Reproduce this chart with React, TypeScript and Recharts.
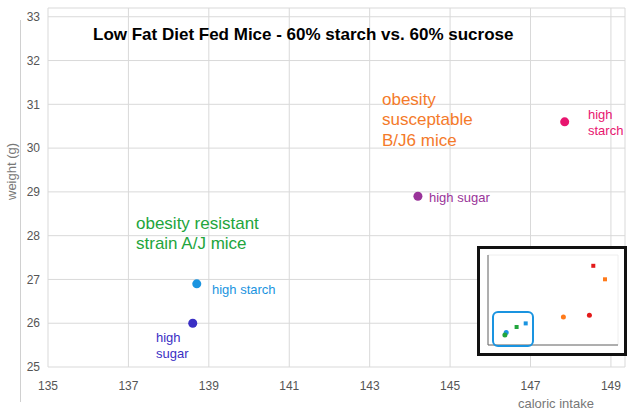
import React from 'react'
import { ScatterChart, Scatter, XAxis, YAxis, CartesianGrid, Cell } from 'recharts'

const xTicks = [135, 137, 139, 141, 143, 145, 147, 149]
const yTicks = [25, 26, 27, 28, 29, 30, 31, 32, 33]

const points = [
  { x: 138.6, y: 26.0, color: '#3a2fc4' },
  { x: 138.7, y: 26.9, color: '#1a94e0' },
  { x: 144.2, y: 28.9, color: '#993399' },
  { x: 147.85, y: 30.6, color: '#e8156f' },
]

// inset thumbnail (small copy of a second plot)
const insetCircles = [
  { x: 1.4, y: 1.4, color: '#1a94e0' },
  { x: 1.3, y: 1.1, color: '#22a53c' },
  { x: 5.8, y: 3.1, color: '#ff7a1a' },
  { x: 7.8, y: 3.3, color: '#e31a1a' },
]
const insetSquares = [
  { x: 2.2, y: 2.0, color: '#22a53c' },
  { x: 2.9, y: 2.4, color: '#1a94e0' },
  { x: 8.1, y: 8.8, color: '#e31a1a' },
  { x: 9.0, y: 7.3, color: '#ff7a1a' },
]

const font = '"Liberation Sans", Arial, sans-serif'

const label = (left: number, top: number, color: string, size: number, text: string[]) => (
  <div style={{ position: 'absolute', left, top, color, fontSize: size, lineHeight: 1.2 }}>
    {text.map((t) => (
      <div key={t}>{t}</div>
    ))}
  </div>
)

export default function App() {
  return (
    <div style={{ position: 'absolute', left: 0, top: 0, width: 640, height: 418, background: '#fff', fontFamily: font }}>
      <ScatterChart width={640} height={418} margin={{ top: 8, right: 15, bottom: 21, left: 0 }}>
        <CartesianGrid stroke="#d9d9d9" />
        <XAxis
          type="number"
          dataKey="x"
          domain={[135, 149.35]}
          ticks={xTicks}
          axisLine={false}
          tickLine={false}
          tick={{ fill: '#555', fontSize: 12 }}
          tickMargin={8}
        />
        <YAxis
          type="number"
          dataKey="y"
          domain={[25, 33.2]}
          ticks={yTicks}
          axisLine={false}
          tickLine={false}
          width={48}
          tick={{ fill: '#555', fontSize: 12 }}
        />
        <Scatter data={points} isAnimationActive={false} shape="circle">
          {points.map((p, i) => (
            <Cell key={i} fill={p.color} />
          ))}
        </Scatter>
      </ScatterChart>
      <div style={{ position: 'absolute', left: 20, top: 20, width: 1, height: 382, background: '#d0d0d0' }} />
      <div style={{ position: 'absolute', left: 4, top: 150, transform: 'rotate(-90deg)', transformOrigin: 'left top', color: '#777', fontSize: 13, width: 80, marginTop: 50 }}>
        weight (g)
      </div>
      <div style={{ position: 'absolute', left: 518, top: 396, color: '#777', fontSize: 13 }}>caloric intake</div>
      <div style={{ position: 'absolute', left: 93, top: 25, fontSize: 17, fontWeight: 'bold', color: '#000' }}>
        Low Fat Diet Fed Mice - 60% starch vs. 60% sucrose
      </div>
      {label(382, 90, '#f47a2a', 17, ['obesity', 'susceptable', 'B/J6 mice'])}
      {label(136, 214, '#22a53c', 17, ['obesity resistant', 'strain A/J mice'])}
      {label(588, 107, '#e8156f', 13, ['high', 'starch'])}
      {label(429, 190, '#993399', 13, ['high sugar'])}
      {label(212, 282, '#1a94e0', 13, ['high starch'])}
      {label(156, 330, '#3a2fc4', 13, ['high', 'sugar'])}
      <div style={{ position: 'absolute', left: 477, top: 246, width: 144, height: 104, border: '3px solid #111', background: '#fff' }}>
        <ScatterChart width={144} height={104} margin={{ top: 6, right: 6, bottom: 6, left: 6 }}>
          <CartesianGrid stroke="#eee" />
          <XAxis type="number" dataKey="x" domain={[0, 10]} tick={false} height={2} tickLine={false} />
          <YAxis type="number" dataKey="y" domain={[0, 10]} tick={false} width={2} tickLine={false} />
          <Scatter data={insetCircles} isAnimationActive={false} shape={(p: any) => <circle cx={p.cx} cy={p.cy} r={2.5} fill={p.payload.color} />} />
          <Scatter data={insetSquares} isAnimationActive={false} shape={(p: any) => <rect x={p.cx - 2} y={p.cy - 2} width={4} height={4} fill={p.payload.color} />} />
        </ScatterChart>
        <div style={{ position: 'absolute', left: 12, top: 62, width: 38, height: 32, border: '2px solid #1a94e0', borderRadius: 6 }} />
      </div>
    </div>
  )
}
